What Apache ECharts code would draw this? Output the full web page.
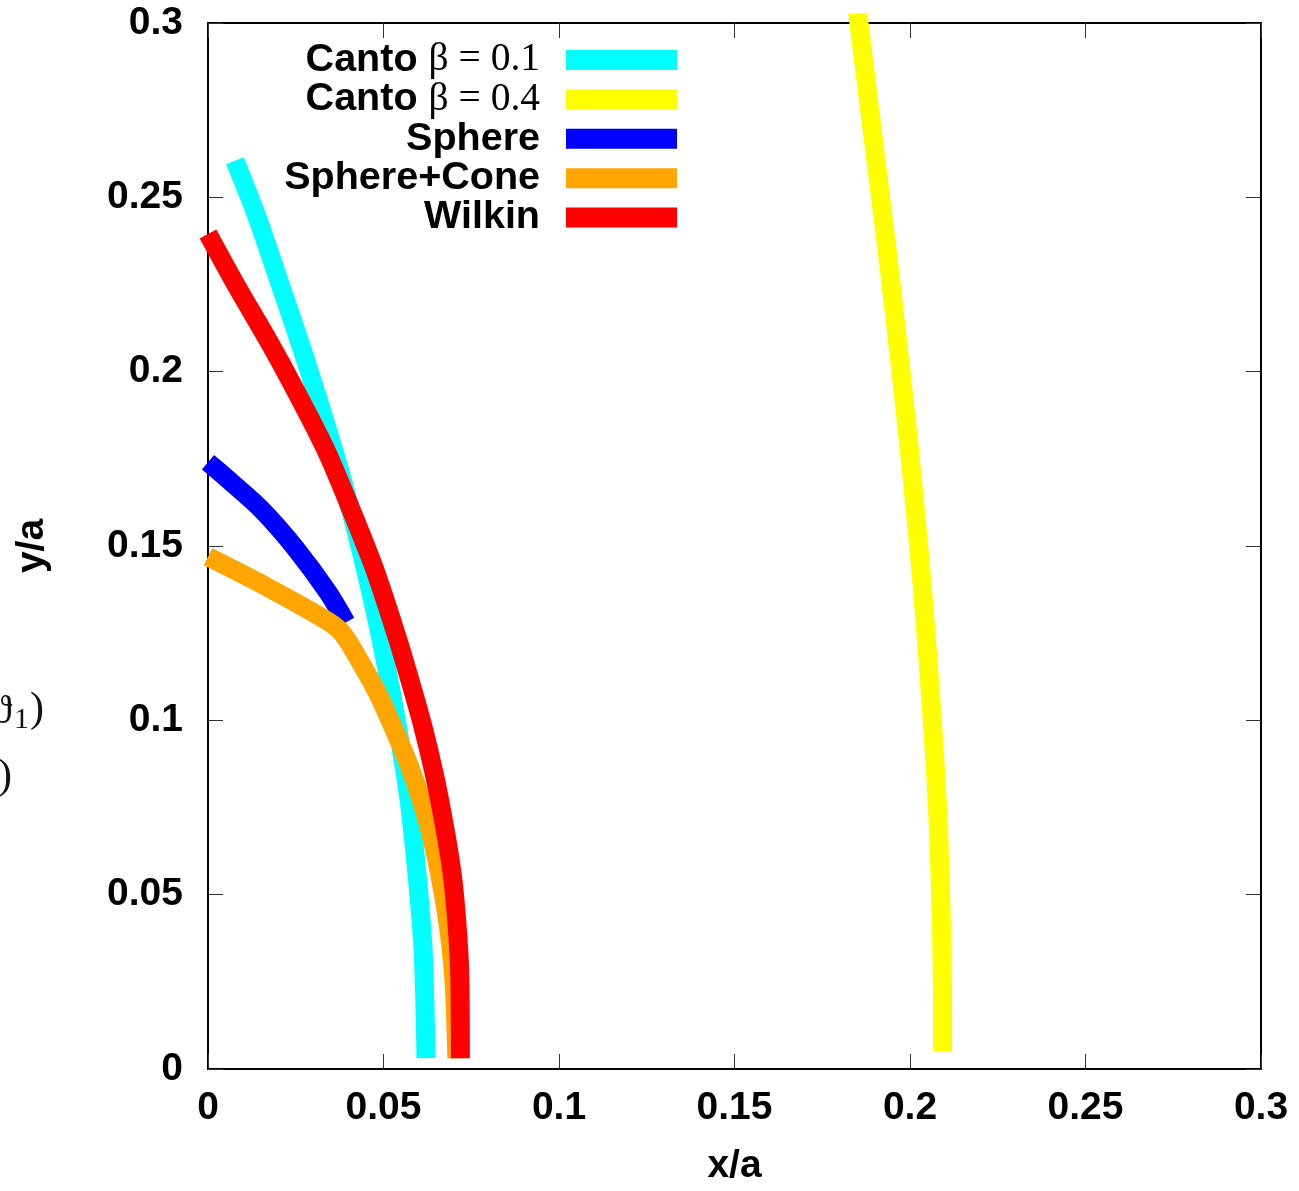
<!DOCTYPE html>
<html><head><meta charset="utf-8">
<script src="https://cdn.jsdelivr.net/npm/echarts@6/dist/echarts.min.js"></script>
<style>html,body{margin:0;padding:0;background:#fff;overflow:hidden}#c{width:1299px;height:1191px}</style>
</head><body><div id="c"></div>
<script>
// ---- data (x/a, y/a) ----
const seriesNames = ['Canto β = 0.1', 'Canto β = 0.4', 'Sphere', 'Sphere+Cone', 'Wilkin'];
const seriesColors = ['#00ffff', '#ffff00', '#0000ff', '#ffa500', '#ff0000'];
const xTickValues = [0, 0.05, 0.1, 0.15, 0.2, 0.25, 0.3];
const yTickValues = [0, 0.05, 0.1, 0.15, 0.2, 0.25, 0.3];

const cantoBeta01 = [
  [0.0077, 0.2605], [0.0140, 0.2443], [0.0205, 0.2252], [0.0268, 0.2064],
  [0.0328, 0.1874], [0.0387, 0.1674], [0.0439, 0.1475], [0.0490, 0.1247],
  [0.0533, 0.1019], [0.0570, 0.0792], [0.0595, 0.0564], [0.0613, 0.0336],
  [0.0621, 0.0031]
];
const cantoBeta04 = [
  [0.1842, 0.3100], [0.1853, 0.3013], [0.1881, 0.2785], [0.1909, 0.2557],
  [0.1937, 0.2329], [0.1963, 0.2101], [0.1988, 0.1874], [0.2011, 0.1646],
  [0.2032, 0.1418], [0.2050, 0.1190], [0.2066, 0.0962], [0.2079, 0.0735],
  [0.2087, 0.0507], [0.2092, 0.0279], [0.2093, 0.0051]
];
const sphere = [
  [0.0000, 0.1740], [0.0057, 0.1691], [0.0154, 0.1603], [0.0248, 0.1495],
  [0.0342, 0.1367], [0.0393, 0.1281]
];
const sphereCone = [
  [0.0000, 0.1469], [0.0154, 0.1390], [0.0342, 0.1284], [0.0385, 0.1247],
  [0.0442, 0.1153], [0.0484, 0.1076], [0.0530, 0.0974], [0.0573, 0.0871],
  [0.0610, 0.0763], [0.0641, 0.0649], [0.0667, 0.0521], [0.0687, 0.0393],
  [0.0701, 0.0251], [0.0709, 0.0031]
];
const wilkin = [
  [0.0000, 0.2395], [0.0078, 0.2252], [0.0186, 0.2064], [0.0287, 0.1874],
  [0.0343, 0.1760], [0.0399, 0.1626], [0.0473, 0.1438], [0.0536, 0.1247],
  [0.0570, 0.1133], [0.0610, 0.0991], [0.0644, 0.0849], [0.0672, 0.0706],
  [0.0695, 0.0564], [0.0709, 0.0421], [0.0717, 0.0279], [0.0719, 0.0031]
];
const seriesData = [cantoBeta01, cantoBeta04, sphere, sphereCone, wilkin];

// ---- chart ----
const chart = echarts.init(document.getElementById('c'), null, {renderer: 'canvas'});
const SANS = '"Liberation Sans", Arial, Helvetica, sans-serif';
const SERIF = '"Liberation Serif", "DejaVu Serif", "Times New Roman", serif';
const tickStyle = {show: true, inside: true, length: 15, lineStyle: {color: '#333', width: 1}};
const lineAxis = {show: true, onZero: false, lineStyle: {color: '#000', width: 2}};

function baseAxis(extra) {
  return Object.assign({
    type: 'value', min: 0, max: 0.3, interval: 0.05,
    axisLine: lineAxis, axisTick: tickStyle, splitLine: {show: false}
  }, extra);
}

const option = {
  animation: false,
  backgroundColor: '#fff',
  grid: {left: 208, top: 23, width: 1053, height: 1055, containLabel: false},
  xAxis: [
    baseAxis({
      position: 'bottom',
      name: 'x/a', nameLocation: 'middle', nameGap: 78,
      nameTextStyle: {fontFamily: SANS, fontWeight: 'bold', fontSize: 39, color: '#000'},
      axisLabel: {margin: 20, fontFamily: SANS, fontWeight: 'bold', fontSize: 39, color: '#000'}
    }),
    baseAxis({position: 'top', axisLabel: {show: false}})
  ],
  yAxis: [
    baseAxis({
      position: 'left',
      name: 'y/a', nameLocation: 'middle', nameGap: 156, nameRotate: 90,
      nameTextStyle: {fontFamily: SANS, fontWeight: 'bold', fontSize: 39, color: '#000'},
      axisLabel: {margin: 25, fontFamily: SANS, fontWeight: 'bold', fontSize: 39, color: '#000'}
    }),
    baseAxis({position: 'right', axisLabel: {show: false}})
  ],
  legend: {
    orient: 'vertical', align: 'right',
    right: 622, top: 40, padding: 0, itemGap: -0.6,
    itemWidth: 111, itemHeight: 20, icon: 'rect',
    selectedMode: false,
    itemStyle: {borderWidth: 0},
    data: seriesNames,
    formatter: function (name) {
      const m = name.match(/^Canto (.*)$/);
      if (m) return '{a|Canto }{b|' + m[1] + '}{g|}';
      return '{a|' + name + '}{g|}';
    },
    textStyle: {
      color: '#000', lineHeight: 38,
      rich: {
        a: {fontFamily: SANS, fontWeight: 'bold', fontSize: 39.5, color: '#000', lineHeight: 38},
        b: {fontFamily: SERIF, fontSize: 39.5, color: '#000', lineHeight: 38},
        g: {width: 21, lineHeight: 38}
      }
    }
  },
  series: seriesNames.map(function (n, i) {
    return {
      name: n, type: 'line', data: seriesData[i],
      xAxisIndex: 0, yAxisIndex: 0,
      showSymbol: false, symbol: 'none', clip: true,
      smooth: 0.3,
      itemStyle: {color: seriesColors[i]},
      lineStyle: {color: seriesColors[i], width: 19, cap: 'butt', join: 'miter'},
      emphasis: {disabled: true}
    };
  }),
  graphic: [
    {type: 'text', x: 12, y: 712, style: {text: 'ϑ', font: '40px ' + SERIF, fill: '#111', align: 'right', textAlign: 'right', verticalAlign: 'middle', textVerticalAlign: 'middle'}},
    {type: 'text', x: 29, y: 720, style: {text: '1', font: '30px ' + SERIF, fill: '#111', align: 'right', textAlign: 'right', verticalAlign: 'middle', textVerticalAlign: 'middle'}},
    {type: 'text', x: 44, y: 710, style: {text: ')', font: '42px ' + SERIF, fill: '#111', align: 'right', textAlign: 'right', verticalAlign: 'middle', textVerticalAlign: 'middle'}},
    {type: 'text', x: 12, y: 777, style: {text: ')', font: '42px ' + SERIF, fill: '#111', align: 'right', textAlign: 'right', verticalAlign: 'middle', textVerticalAlign: 'middle'}}
  ]
};
chart.setOption(option);
</script>
</body></html>
